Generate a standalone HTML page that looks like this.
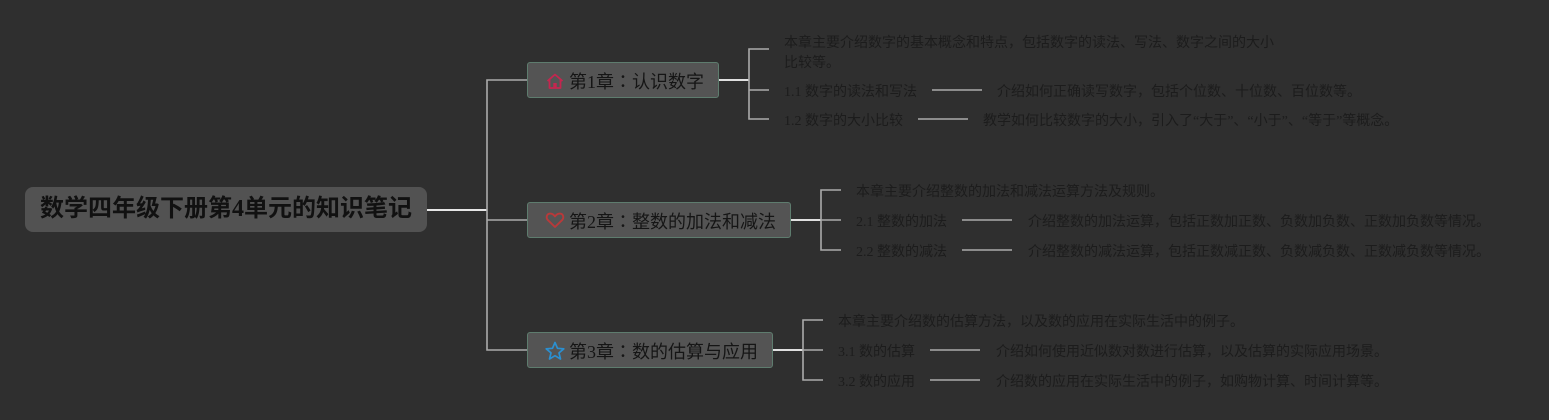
<!DOCTYPE html>
<html><head><meta charset="utf-8"><style>
html,body{margin:0;padding:0;}
body{width:1549px;height:420px;background:#2f2f2f;position:relative;overflow:hidden;font-family:"Liberation Serif","Noto Sans CJK SC",sans-serif;}
.abs{position:absolute;white-space:nowrap;}
.root{left:25px;top:187px;width:402px;height:45px;background:#525252;border-radius:8px;}
.roott{left:25px;top:187px;width:402px;height:45px;line-height:45px;text-align:center;font-size:24px;font-weight:bold;color:#111;}
.ch{background:#545454;border:1.5px solid #5e7c6e;border-radius:3px;box-sizing:border-box;}
.cht{font-size:18px;color:#151515;line-height:22px;}
.cln{font-family:"Noto Sans CJK TC",sans-serif;}
.lf{font-size:14px;color:#1c1c1c;line-height:20px;}
</style></head><body>
<svg class="abs" style="left:0;top:0" width="1549" height="420">
<g fill="none" stroke-linecap="butt">
<path d="M427 210 H487" stroke="#e6e6e6" stroke-width="2"/>
<path d="M527 80 H487 V350 H527 M487 220 H527" stroke="#ababab" stroke-width="1.6"/>
<path d="M719 80 H749 M791 220 H821 M773 350 H803" stroke="#e0e0e0" stroke-width="2"/>
<path d="M769 49 H749 V119 H769 M749 90 H769" stroke="#ababab" stroke-width="1.6"/>
<path d="M841 190 H821 V250 H841 M821 220 H841" stroke="#ababab" stroke-width="1.6"/>
<path d="M823 320 H803 V380 H823 M803 350 H823" stroke="#ababab" stroke-width="1.6"/>
<path d="M932 90 H982 M918 119 H968 M962 220 H1012 M962 250 H1012 M930 350 H980 M930 380 H980" stroke="#ababab" stroke-width="1.6"/>
</g>
</svg>

<div class="abs root"></div>
<div class="abs roott">数学四年级下册第4单元的知识笔记</div>

<div class="abs ch" style="left:527px;top:62px;width:192px;height:36px;"></div>
<div class="abs ch" style="left:527px;top:202px;width:264px;height:36px;"></div>
<div class="abs ch" style="left:527px;top:332px;width:246px;height:36px;"></div>

<svg class="abs" style="left:545px;top:72px" width="20" height="18" viewBox="0 0 20 18">
<path d="M2.5 9 L10 2.5 L17.5 9 M4.5 7.5 V16 H15.5 V7.5" fill="none" stroke="#c4264f" stroke-width="1.8" stroke-linejoin="round"/>
<rect x="8.3" y="11" width="3.4" height="5" fill="#c4264f"/>
</svg>
<svg class="abs" style="left:545px;top:211px" width="20" height="18" viewBox="0 0 20 18">
<path d="M10 16 L3 9.2 C0.8 7 1.5 3 4.8 2.6 C7 2.3 8.6 3.6 10 5.4 C11.4 3.6 13 2.3 15.2 2.6 C18.5 3 19.2 7 17 9.2 Z" fill="none" stroke="#b9393a" stroke-width="1.9" stroke-linejoin="round"/>
</svg>
<svg class="abs" style="left:544px;top:341px" width="22" height="20" viewBox="0 0 22 20">
<path d="M11 1.5 L13.5 7.3 L19.8 7.8 L15 11.9 L16.5 18 L11 14.7 L5.5 18 L7 11.9 L2.2 7.8 L8.5 7.3 Z" fill="none" stroke="#2b8fd0" stroke-width="1.7" stroke-linejoin="round"/>
</svg>

<div class="abs cht" style="left:569px;top:70px;">第1章<span class="cln">：</span>认识数字</div>
<div class="abs cht" style="left:569px;top:210px;">第2章<span class="cln">：</span>整数的加法和减法</div>
<div class="abs cht" style="left:569px;top:340px;">第3章<span class="cln">：</span>数的估算与应用</div>

<div class="abs lf" style="left:784px;top:34px;line-height:19.5px;">本章主要介绍数字的基本概念和特点，包括数字的读法、写法、数字之间的大小<br>比较等。</div>
<div class="abs lf" style="left:784px;top:83px;">1.1 数字的读法和写法</div>
<div class="abs lf" style="left:997px;top:83px;">介绍如何正确读写数字，包括个位数、十位数、百位数等。</div>
<div class="abs lf" style="left:784px;top:112px;">1.2 数字的大小比较</div>
<div class="abs lf" style="left:983px;top:112px;">教学如何比较数字的大小，引入了“大于”、“小于”、“等于”等概念。</div>

<div class="abs lf" style="left:856px;top:183px;">本章主要介绍整数的加法和减法运算方法及规则。</div>
<div class="abs lf" style="left:856px;top:213px;">2.1 整数的加法</div>
<div class="abs lf" style="left:1028px;top:213px;">介绍整数的加法运算，包括正数加正数、负数加负数、正数加负数等情况。</div>
<div class="abs lf" style="left:856px;top:243px;">2.2 整数的减法</div>
<div class="abs lf" style="left:1028px;top:243px;">介绍整数的减法运算，包括正数减正数、负数减负数、正数减负数等情况。</div>

<div class="abs lf" style="left:838px;top:313px;">本章主要介绍数的估算方法，以及数的应用在实际生活中的例子。</div>
<div class="abs lf" style="left:838px;top:343px;">3.1 数的估算</div>
<div class="abs lf" style="left:996px;top:343px;">介绍如何使用近似数对数进行估算，以及估算的实际应用场景。</div>
<div class="abs lf" style="left:838px;top:373px;">3.2 数的应用</div>
<div class="abs lf" style="left:996px;top:373px;">介绍数的应用在实际生活中的例子，如购物计算、时间计算等。</div>
</body></html>
